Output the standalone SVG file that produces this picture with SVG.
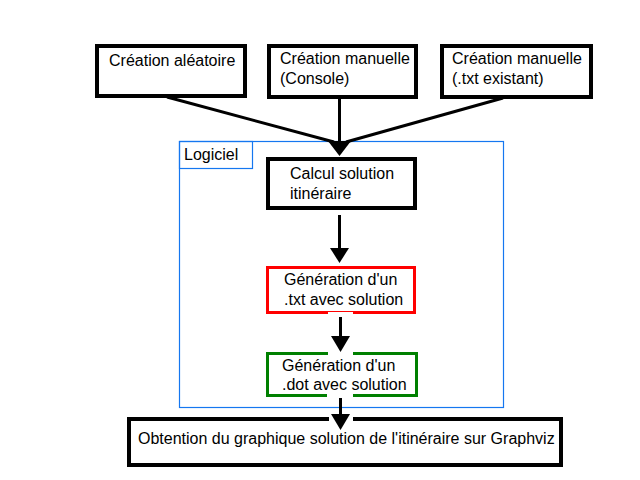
<svg xmlns="http://www.w3.org/2000/svg" width="640" height="480" viewBox="0 0 640 480">
<style>
.t{font-family:"Liberation Sans",Arial,Helvetica,sans-serif;font-size:16px;fill:#000}
.b{fill:#fff;stroke:#000;stroke-width:4}
.ln{stroke:#000;stroke-width:3;fill:none}
.hd{fill:#000}
.gap{fill:#fff}
.bl{fill:none;stroke:#1577f0;stroke-width:1.2}
</style>
<rect width="640" height="480" fill="#fff"/>
<g id="logiciel">
<rect class="bl" x="179.5" y="141.5" width="324" height="266"/>
<rect class="bl" x="179.5" y="141.5" width="73" height="27"/>
<text class="t" x="184" y="160">Logiciel</text>
</g>
<g id="n1">
<rect class="b" x="97" y="46" width="148" height="50"/>
<text class="t" x="109" y="66">Création aléatoire</text>
</g>
<g id="n2">
<rect class="b" x="269" y="46" width="147" height="51"/>
<text class="t" x="280" y="64">Création manuelle</text>
<text class="t" x="280" y="84">(Console)</text>
</g>
<g id="n3">
<rect class="b" x="442" y="46" width="149" height="51"/>
<text class="t" x="452" y="64">Création manuelle</text>
<text class="t" x="452" y="84">(.txt existant)</text>
</g>
<g id="n4">
<rect class="b" x="268" y="159" width="147" height="49"/>
<text class="t" x="290" y="179">Calcul solution</text>
<text class="t" x="290" y="199">itinéraire</text>
</g>
<g id="n5">
<rect x="267.5" y="267.5" width="147" height="45" fill="#fff" stroke="#ff0000" stroke-width="3"/>
<text class="t" x="284" y="285">Génération d'un</text>
<text class="t" x="284" y="305">.txt avec solution</text>
</g>
<g id="n6">
<rect x="267.5" y="353.5" width="149" height="42" fill="#fff" stroke="#008000" stroke-width="3"/>
<text class="t" x="282" y="371">Génération d'un</text>
<text class="t" x="282" y="390">.dot avec solution</text>
</g>
<g id="n7">
<rect class="b" x="129" y="419" width="432" height="46"/>
<text class="t" x="138" y="444">Obtention du graphique solution de l'itinéraire sur Graphviz</text>
</g>
<g id="connectors">
<line class="ln" x1="167" y1="97" x2="334" y2="142"/>
<line class="ln" x1="339.5" y1="98" x2="339.5" y2="142"/>
<line class="ln" x1="503" y1="98" x2="346" y2="142"/>
<polygon class="hd" points="328,141 351,141 339.5,156"/>
<line class="ln" x1="339.5" y1="215" x2="339.5" y2="249"/>
<polygon class="hd" points="330,248 349,248 339.5,263"/>
<rect class="gap" x="328" y="312" width="25" height="4"/>
<rect class="gap" x="328" y="350" width="25" height="6"/>
<line class="ln" x1="340.5" y1="317" x2="340.5" y2="338"/>
<polygon class="hd" points="331,336 350,336 340.5,352"/>
<rect class="gap" x="327" y="394" width="26" height="4"/>
<rect class="gap" x="329" y="416" width="24" height="6"/>
<line class="ln" x1="340.5" y1="398" x2="340.5" y2="416"/>
<polygon class="hd" points="331,414 350,414 340.5,430"/>
</g>
</svg>
